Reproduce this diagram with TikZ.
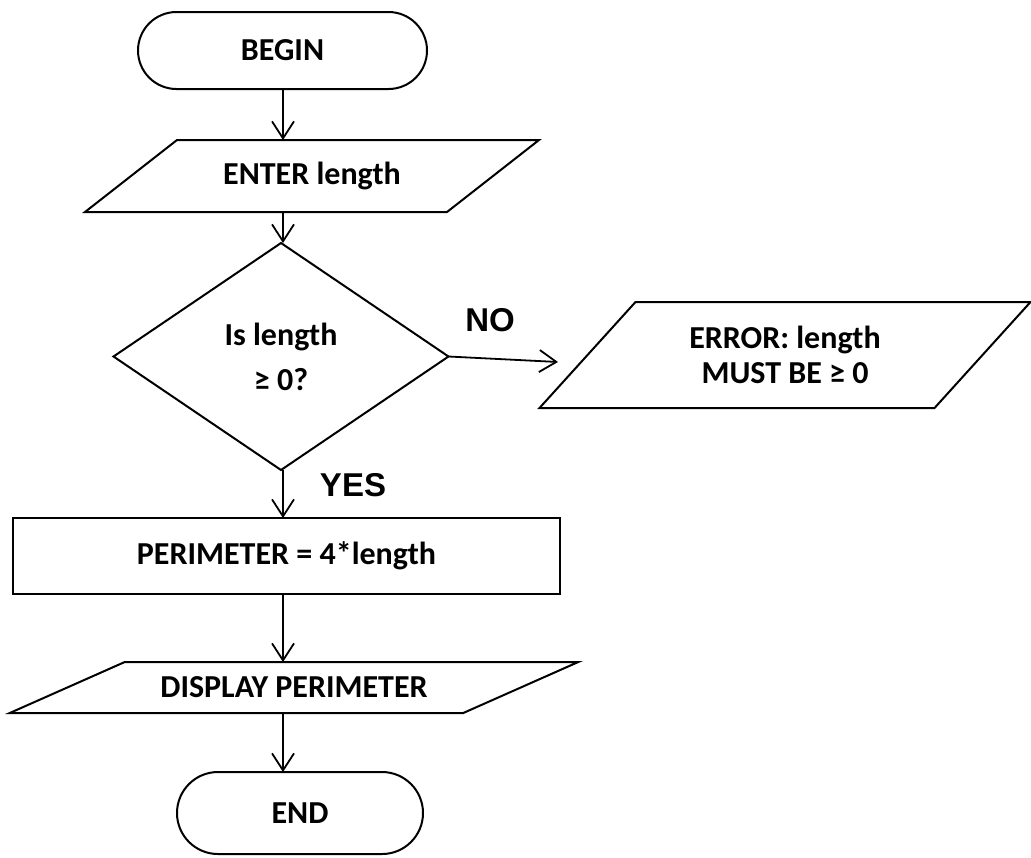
\documentclass[tikz,border=0pt]{standalone}
\usepackage{fontspec}
\setmainfont{Carlito}
\newfontfamily\lblfont{Liberation Sans}
\usetikzlibrary{arrows.meta}
\newcommand\drawpara[2]{%
  \draw[shapeline] ([xshift=#2]#1.north west) -- ([xshift=#2]#1.north east)
    -- ([xshift=-#2]#1.south east) -- ([xshift=-#2]#1.south west) -- cycle;}
\begin{document}
\begin{tikzpicture}[x=0.5pt,y=-0.5pt,
  every node/.style={font=\fontsize{16}{19}\selectfont\bfseries, inner sep=0pt, outer sep=0pt},
  shapeline/.style={line width=1pt, line join=miter},
  arr/.style={line width=0.9pt, -{Straight Barb[length=8.5pt,width=11pt,line width=0.9pt]}},
  term/.style={draw, line width=1pt},
  procbox/.style={draw, line width=1pt},
  lbl/.style={font=\lblfont\bfseries\fontsize{16.5}{20}\selectfont}
]
\useasboundingbox (0,0) rectangle (1031,857);

% nodes
\node[term, minimum width=144.5pt, minimum height=38.5pt, rounded corners=19.25pt] (begin) at (282.5,50.5) {BEGIN};
\node[minimum width=181pt, minimum height=36pt] (enter) at (312,176) {ENTER length};
\drawpara{enter}{23pt}
\node[minimum width=167.5pt, minimum height=113.5pt, align=center, font=\fontsize{16}{22.5}\selectfont\bfseries] (dec) at (281,356.5) {Is length\\[0pt]≥ 0?};
\draw[shapeline] (dec.north) -- (dec.east) -- (dec.south) -- (dec.west) -- cycle;
\node[minimum width=197.5pt, minimum height=53pt, align=center, font=\fontsize{16}{17.5}\selectfont\bfseries] (err) at (785,355) {ERROR: length\\MUST BE ≥ 0};
\drawpara{err}{24pt}
\node[procbox, minimum width=273.5pt, minimum height=38pt] (calc) at (286.5,556) {PERIMETER = 4*length};
\node[minimum width=226.75pt, minimum height=25.5pt] (disp) at (294,687.5) {DISPLAY PERIMETER};
\drawpara{disp}{28.75pt}
\node[term, minimum width=123pt, minimum height=41pt, rounded corners=20.5pt] (stop) at (300,813) {END};

\node[lbl] (no) at (490,320) {NO};
\node[lbl] (yes) at (353,485) {YES};

% connectors
\coordinate (ax) at (283,0);
\coordinate (noend) at (558,362);
\draw[arr] (begin.south -| ax) -- (enter.north -| ax);
\draw[arr] (enter.south -| ax) -- (dec.north -| ax);
\draw[arr] (dec.south -| ax) -- (calc.north -| ax);
\draw[arr] (calc.south -| ax) -- (disp.north -| ax);
\draw[arr] (disp.south -| ax) -- (stop.north -| ax);
\draw[arr] (dec.east) -- (noend);
\end{tikzpicture}
\end{document}
